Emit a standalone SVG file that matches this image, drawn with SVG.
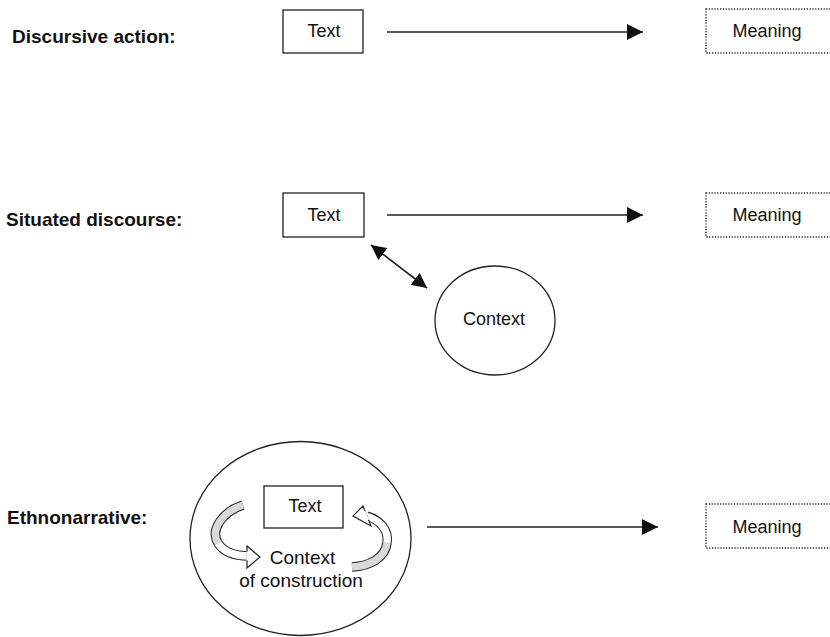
<svg xmlns="http://www.w3.org/2000/svg" width="830" height="637" viewBox="0 0 830 637">
<defs>
<style>
.lbl{font-family:"Liberation Sans",Arial,sans-serif;font-weight:bold;font-size:19px;fill:#111}
.t{font-family:"Liberation Sans",Arial,sans-serif;font-size:18px;fill:#111;text-anchor:middle}
.box{fill:#fff;stroke:#222;stroke-width:1.3}
.mbox{fill:#fff;stroke:#222;stroke-width:1.4;stroke-dasharray:1.2 1.6}
.conn{stroke:#222;stroke-width:1.6;fill:none}
.ell{fill:#fff;stroke:#222;stroke-width:1.3}
</style>
<marker id="ah" markerWidth="16" markerHeight="16" viewBox="0 0 16 16" refX="16" refY="8" orient="auto" markerUnits="userSpaceOnUse">
<path d="M0,0 L16,8 L0,16 Z" fill="#111"/>
</marker>
<marker id="ah2" markerWidth="15" markerHeight="15" viewBox="0 0 15 15" refX="15" refY="7.5" orient="auto-start-reverse" markerUnits="userSpaceOnUse">
<path d="M0,0 L15,7.5 L0,15 Z" fill="#111"/>
</marker>
</defs>
<rect width="830" height="637" fill="#fff"/>

<text class="lbl" x="12" y="43">Discursive action:</text>
<text class="lbl" x="6" y="226">Situated discourse:</text>
<text class="lbl" x="7" y="524">Ethnonarrative:</text>

<g id="ethno-context">
<ellipse class="ell" cx="300.5" cy="538.5" rx="110.5" ry="97"/>
<text class="t" x="302.5" y="564" style="font-size:19px">Context</text>
<text class="t" x="301" y="587" style="font-size:19px">of construction</text>
</g>

<g id="text1"><rect class="box" x="283" y="10" width="80" height="43"/><text class="t" x="324" y="37">Text</text></g>
<g id="meaning1"><rect class="mbox" x="706" y="9" width="130" height="44"/><text class="t" x="767" y="37">Meaning</text></g>

<g id="text2"><rect class="box" x="283" y="193" width="81" height="44"/><text class="t" x="324" y="221">Text</text></g>
<g id="meaning2"><rect class="mbox" x="706" y="193" width="130" height="44"/><text class="t" x="767" y="221">Meaning</text></g>
<g id="context2"><ellipse class="ell" cx="495" cy="320.5" rx="60" ry="54.5"/><text class="t" x="494" y="325">Context</text></g>

<g id="text3"><rect class="box" x="264" y="486" width="79" height="42"/><text class="t" x="305" y="512">Text</text></g>
<g id="meaning3"><rect class="mbox" x="706" y="504" width="130" height="44"/><text class="t" x="767" y="533">Meaning</text></g>

<g id="connectors">
<line class="conn" x1="387" y1="32" x2="643" y2="32" marker-end="url(#ah)"/>
<line class="conn" x1="387" y1="215" x2="643" y2="215" marker-end="url(#ah)"/>
<line class="conn" x1="371" y1="245" x2="427" y2="288" marker-start="url(#ah2)" marker-end="url(#ah2)"/>
<line class="conn" x1="427" y1="527" x2="658" y2="527" marker-end="url(#ah)"/>

<g id="curl-left">
<path d="M243,505 C222,512 210,530 218,543" fill="none" stroke="#222" stroke-width="9.5"/>
<path d="M218,543 C224,553 236,556 249,556" fill="none" stroke="#222" stroke-width="9.5"/>
<path d="M243,505 C222,512 210,530 218,543" fill="none" stroke="#d9d9d9" stroke-width="7.5"/>
<path d="M218,543 C224,553 236,556 250,556" fill="none" stroke="#fff" stroke-width="7.5"/>
<path d="M247,546 L260,557 L247,568 Z" fill="#fff" stroke="#222" stroke-width="1.2" stroke-linejoin="miter"/>
<line x1="247.5" y1="551.5" x2="247.5" y2="560.5" stroke="#fff" stroke-width="2.5"/>
</g>
<g id="curl-right">
<path d="M352,567 C370,566 385,558 387,543" fill="none" stroke="#222" stroke-width="9.5"/>
<path d="M387,543 C389,530 380,520 367,516" fill="none" stroke="#222" stroke-width="9.5"/>
<path d="M352,567 C370,566 385,558 387,543" fill="none" stroke="#d9d9d9" stroke-width="7.5"/>
<path d="M387,543 C389,530 380,520 366,516" fill="none" stroke="#fff" stroke-width="7.5"/>
<path d="M363,506 L353,516 L371,526 Z" fill="#fff" stroke="#222" stroke-width="1.2"/>
<line x1="364" y1="511" x2="368" y2="520" stroke="#fff" stroke-width="2.5"/>
</g>
</g>
</svg>
